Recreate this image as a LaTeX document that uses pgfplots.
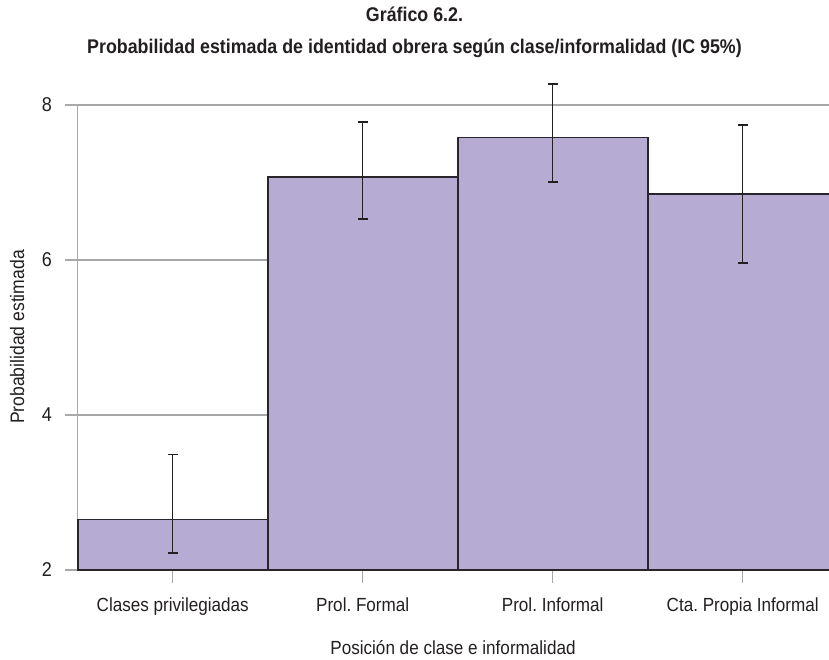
\documentclass[border=0pt]{standalone}
\usepackage{fontspec}
\setmainfont{Liberation Sans}[FakeStretch=0.9]
\usepackage{pgfplots}
\pgfplotsset{compat=1.18}
\definecolor{barfill}{RGB}{181,171,211}
\definecolor{baredge}{RGB}{40,37,45}
\definecolor{errcol}{RGB}{35,31,32}
\definecolor{gridcol}{RGB}{168,168,168}
\pgfplotstableread{
x y ep em
0 2.65 0.84 0.43
1 7.07 0.71 0.54
2 7.58 0.69 0.57
3 6.85 0.89 0.89
}\datatab
\begin{document}
\begin{tikzpicture}[x=1pt,y=1pt]
\path[use as bounding box] (0,0) rectangle (829,659);
\begin{axis}[
  at={(77.7pt,89pt)}, anchor=south west,
  scale only axis, width=760pt, height=492.1pt,
  xmin=-0.5, xmax=3.5, ymin=2, ymax=8.35,
  y coord trafo/.code={\pgfmathparse{#1-2}},
  y coord inv trafo/.code={\pgfmathparse{#1+2}},
  clip=false,
  axis line style={draw=none},
  ytick={2,4,6,8}, yticklabels={2,4,6,8},
  xtick={0,1,2,3},
  xticklabels={Clases privilegiadas, Prol.\ Formal, Prol.\ Informal, Cta.\ Propia Informal},
  ymajorgrids, grid style={gridcol, line width=1.2pt},
  tick align=outside, major tick length=12.5pt,
  xtick pos=bottom, ytick pos=left,
  tick style={color=gridcol, line width=1.2pt},
  /pgf/number format/assume math mode=true,
  ticklabel style={font=\fontsize{19}{22}\selectfont, text=errcol},
  yticklabel style={anchor=east, inner sep=0pt, xshift=-13pt, font=\fontsize{20}{22}\selectfont},
  xticklabel style={anchor=base, inner sep=0pt, yshift=-29pt},
]
\draw[gridcol, line width=1.2pt] (axis cs:-0.5,2) -- (axis cs:-0.5,8);
\addplot[ybar, bar width=1, bar shift=0pt, fill=barfill, draw=baredge, line width=1.7pt,
  error bars/.cd, y dir=both, y explicit,
  error bar style={color=errcol, line width=1.5pt},
  error mark options={rotate=90, mark size=5pt, color=errcol, line width=1.8pt}]
  table[x=x, y=y, y error plus=ep, y error minus=em] {\datatab};
\end{axis}
\node[font=\bfseries\fontsize{19.8}{22}\selectfont, text=errcol, anchor=base] at (414.5,637) {Gráfico 6.2.};
\node[font=\bfseries\fontsize{19.8}{22}\selectfont, text=errcol, anchor=base] at (414.5,605) {Probabilidad estimada de identidad obrera según clase/informalidad (IC 95\%)};
\node[font=\fontsize{19}{22}\selectfont, text=errcol, anchor=base] at (453,5) {Posición de clase e informalidad};
\node[font=\fontsize{19.5}{22}\selectfont, text=errcol, anchor=base, rotate=90] at (24,322) {Probabilidad estimada};
\end{tikzpicture}
\end{document}
